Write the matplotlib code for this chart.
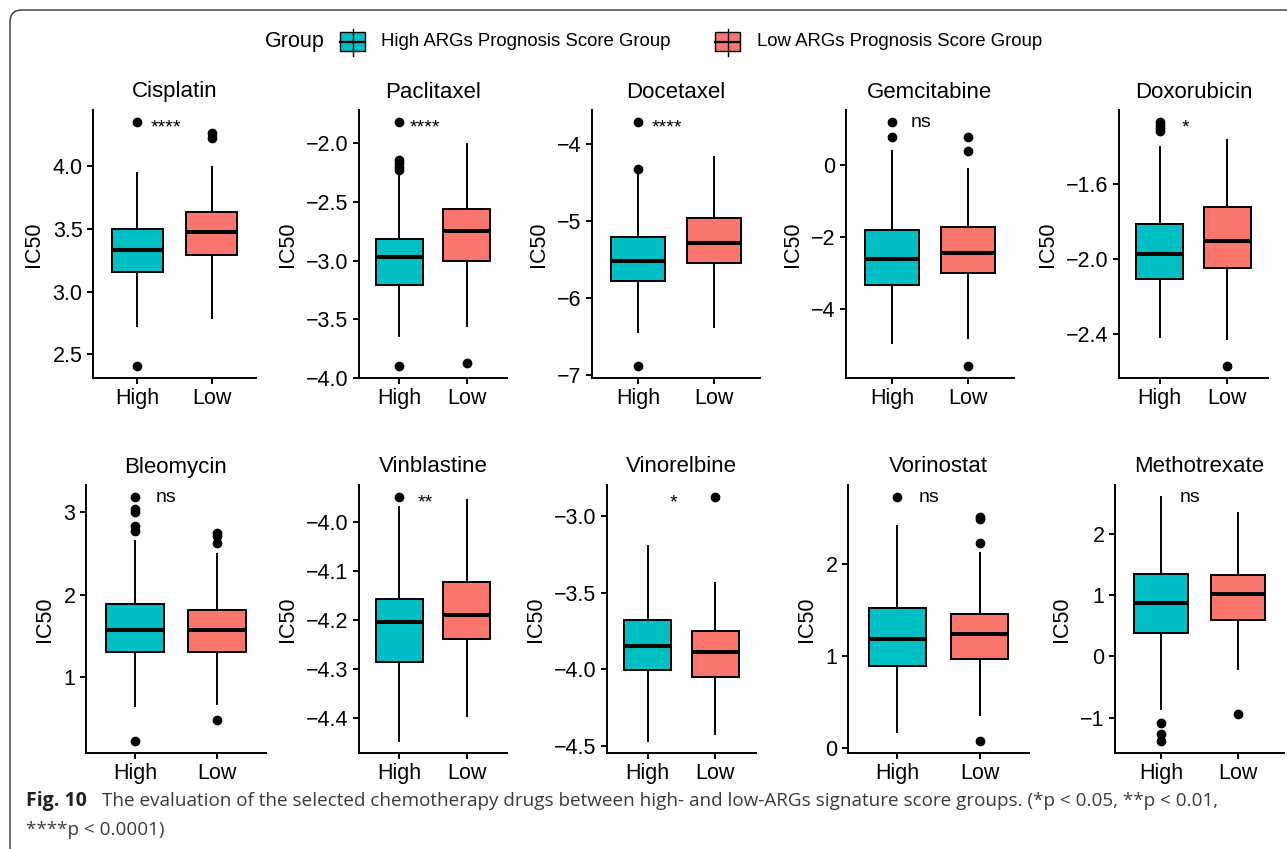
import numpy as np
import matplotlib
matplotlib.use("Agg")
import matplotlib.pyplot as plt
from matplotlib.patches import Rectangle, FancyBboxPatch
from matplotlib.ticker import FuncFormatter

plt.rcParams['font.family'] = ['Liberation Sans', 'DejaVu Sans']

# data (IC50 box statistics per drug)
drugs = ['Cisplatin', 'Paclitaxel', 'Docetaxel', 'Gemcitabine', 'Doxorubicin',
         'Bleomycin', 'Vinblastine', 'Vinorelbine', 'Vorinostat', 'Methotrexate']
groups = ['High', 'Low']

high_lo = [2.726, -3.643, -6.44, -4.961, -2.414, 0.644, -4.446, -4.469, 0.164, -0.853]
high_q1 = [3.158, -3.207, -5.776, -3.344, -2.106, 1.304, -4.286, -4.005, 0.887, 0.386]
high_med = [3.336, -2.972, -5.526, -2.614, -1.972, 1.571, -4.204, -3.846, 1.185, 0.880]
high_q3 = [3.500, -2.816, -5.203, -1.811, -1.810, 1.887, -4.157, -3.676, 1.527, 1.353]
high_hi = [3.947, -2.270, -4.400, 0.397, -1.404, 2.648, -3.969, -3.198, 2.418, 2.603]
high_out = [[4.353, 2.407],
            [-1.82, -2.14, -2.17, -2.20, -2.23, -3.898],
            [-3.72, -4.33, -6.88],
            [1.19, 0.785],
            [-1.27, -1.285, -1.30, -1.315],
            [3.186, 3.045, 3.0, 2.838, 2.781, 0.227],
            [-3.950],
            [],
            [2.731],
            [-1.082, -1.261, -1.380]]

low_lo = [2.787, -3.558, -6.375, -4.822, -2.423, 0.676, -4.395, -4.424, 0.356, -0.212]
low_q1 = [3.289, -3.003, -5.543, -2.993, -2.048, 1.304, -4.238, -4.049, 0.971, 0.592]
low_med = [3.472, -2.748, -5.284, -2.448, -1.905, 1.575, -4.189, -3.889, 1.233, 1.016]
low_q3 = [3.634, -2.558, -4.961, -1.727, -1.723, 1.818, -4.122, -3.754, 1.455, 1.326]
low_hi = [3.995, -2.006, -4.177, -0.120, -1.366, 2.498, -3.955, -3.438, 2.120, 2.342]
low_out = [[4.265, 4.226],
           [-3.870],
           [],
           [0.785, 0.379, -5.589],
           [-2.567],
           [2.745, 2.71, 2.628, 0.482],
           [],
           [-2.876],
           [2.513, 2.495, 2.229, 0.073],
           [-0.946]]

signif = ['****', '****', '****', 'ns', '*', 'ns', '**', '*', 'ns', 'ns']

yticks = [[2.5, 3.0, 3.5, 4.0], [-4.0, -3.5, -3.0, -2.5, -2.0], [-7, -6, -5, -4],
          [-4, -2, 0], [-2.4, -2.0, -1.6], [1, 2, 3], [-4.4, -4.3, -4.2, -4.1, -4.0],
          [-4.5, -4.0, -3.5, -3.0], [0, 1, 2], [-1, 0, 1, 2]]
ytick_dec = [1, 1, 0, 0, 1, 0, 1, 1, 0, 0]

legend_labels = ['High ARGs Prognosis Score Group', 'Low ARGs Prognosis Score Group']
colors = ['#00BFC4', '#F8766D']

#Layout in pixels (left, right, top, bottom) for each panel
W, H = 1287, 849
panel_px = [(93, 256, 110, 378), (359, 507, 110, 378), (592, 760, 110, 378),
            (846, 1014, 110, 378), (1119, 1268, 110, 378),
            (86, 266, 485, 753), (359, 507, 485, 753), (607, 756, 485, 753),
            (848, 1029, 485, 753), (1115, 1284, 485, 753)]


def px_rect(l, r, t, b):
    return [l / W, 1 - b / H, (r - l) / W, (b - t) / H]


def minus_fmt(dec):
    return FuncFormatter(lambda v, pos: '{:.{}f}'.format(v, dec).replace('-', '\u2212'))


fig = plt.figure(figsize=(W / 100, H / 100), dpi=100)

lw = 1.4
for i, drug in enumerate(drugs):
    ax = fig.add_axes(px_rect(*panel_px[i]))
    stats = [dict(whislo=high_lo[i], q1=high_q1[i], med=high_med[i], q3=high_q3[i],
                  whishi=high_hi[i], fliers=high_out[i]),
             dict(whislo=low_lo[i], q1=low_q1[i], med=low_med[i], q3=low_q3[i],
                  whishi=low_hi[i], fliers=low_out[i])]
    bp = ax.bxp(stats, positions=[1, 2], widths=0.7, patch_artist=True, showcaps=False,
                boxprops=dict(linewidth=lw, edgecolor='black'),
                whiskerprops=dict(linewidth=lw, color='black'),
                medianprops=dict(linewidth=2.9, color='black', solid_capstyle='butt'),
                flierprops=dict(marker='o', markerfacecolor='black', markeredgecolor='black',
                                markersize=6))
    for patch, c in zip(bp['boxes'], colors):
        patch.set_facecolor(c)

    allv = [high_lo[i], high_hi[i], low_lo[i], low_hi[i]] + high_out[i] + low_out[i]
    vmin, vmax = min(allv), max(allv)
    rng = vmax - vmin
    ax.set_ylim(vmin - 0.05 * rng, vmax + 0.05 * rng)
    ax.set_xlim(0.4, 2.6)
    ax.set_xticks([1, 2])
    ax.set_xticklabels(groups)
    ax.set_yticks(yticks[i])
    ax.yaxis.set_major_formatter(minus_fmt(ytick_dec[i]))

    for s in ['top', 'right']:
        ax.spines[s].set_visible(False)
    for s in ['left', 'bottom']:
        ax.spines[s].set_linewidth(lw)
    ax.tick_params(axis='both', length=4.5, width=lw, labelsize=15.5, colors='black', pad=3)
    ax.set_ylabel('IC50', fontsize=15.5, labelpad=6)
    ax.set_title(drug, fontsize=16, pad=9)

    off = -4 if '*' in signif[i] else 0
    ax.annotate(signif[i], xy=(1.38, vmax), xytext=(0, off), textcoords='offset points',
                ha='center', va='center', fontsize=14)

#legend + frame on a full-figure overlay
lax = fig.add_axes([0, 0, 1, 1])
lax.set_xlim(0, W)
lax.set_ylim(H, 0)
lax.axis('off')

lax.text(265, 41, 'Group', fontsize=15.5, va='center', ha='left')
key_x = [340, 715]
text_x = [381, 757]
for kx, tx, c, lab in zip(key_x, text_x, colors, legend_labels):
    lax.plot([kx + 12.5, kx + 12.5], [29, 56], color='black', lw=1.0)
    lax.add_patch(Rectangle((kx, 32), 25, 19, facecolor=c, edgecolor='black', lw=1.0))
    lax.plot([kx, kx + 25], [41.5, 41.5], color='black', lw=1.6)
    lax.text(tx, 41, lab, fontsize=13.4, va='center', ha='left')

frame = FancyBboxPatch((0.10, -0.5), 14, 8.39 + 0.5, boxstyle='round,pad=0,rounding_size=0.12',
                       transform=fig.dpi_scale_trans, facecolor='none', edgecolor='#444444',
                       lw=1.1, clip_on=False)
fig.patches.append(frame)

fig.text(26 / W, 1 - 801 / H, 'Fig. 10', fontsize=14, fontweight='bold', family='Open Sans',
         va='center', ha='left', color='#231f20')
fig.text(102 / W, 1 - 801 / H,
         'The evaluation of the selected chemotherapy drugs between high- and low-ARGs '
         'signature score groups. (*p < 0.05, **p < 0.01,',
         fontsize=13.6, family='Open Sans', va='center', ha='left', color='#3a3a3a')
fig.text(26 / W, 1 - 830 / H, '****p < 0.0001)', fontsize=13.6, family='Open Sans',
         va='center', ha='left', color='#3a3a3a')

plt.savefig('out.png', dpi=100)
